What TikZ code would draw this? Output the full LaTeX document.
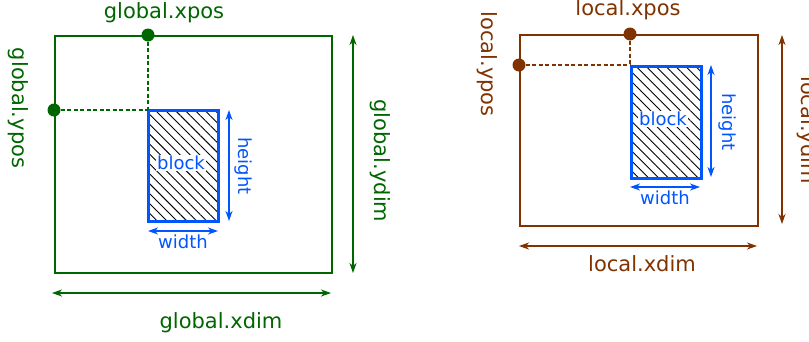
\documentclass[tikz,border=0pt]{standalone}
\usepackage{fontspec}
\setmainfont{DejaVu Sans}
\usetikzlibrary{arrows.meta,patterns.meta}
\definecolor{gr}{HTML}{006600}
\definecolor{br}{HTML}{803300}
\definecolor{bl}{HTML}{0055FF}
\begin{document}
\begin{tikzpicture}[x=1pt,y=-1pt,
  frame/.style={draw=#1,line width=2.4pt,inner sep=0pt,anchor=north west},
  blockbox/.style={draw=bl,line width=3.2pt,inner sep=0pt,anchor=north west,
    minimum width=70pt,minimum height=111pt,
    pattern={Lines[angle=-45,distance=7pt,line width=0.9pt]},pattern color=black},
  dot/.style={circle,fill=#1,inner sep=0pt,minimum size=13pt},
  guide/.style={draw=#1,line width=1.3pt,dash pattern=on 4pt off 2.5pt},
  dim/.style={draw=#1,line width=1.2pt,{Stealth[length=10pt,width=7pt,inset=3pt]}-{Stealth[length=10pt,width=7pt,inset=3pt]}},
  bdim/.style={draw=bl,line width=1.5pt,{Stealth[length=10pt,width=7pt,inset=3pt]}-{Stealth[length=10pt,width=7pt,inset=3pt]}},
  big/.style={text=#1,font=\fontsize{21}{25}\selectfont,inner sep=0pt},
  small/.style={text=bl,font=\fontsize{18}{22}\selectfont,inner sep=0pt},
]
\useasboundingbox (0,0) rectangle (809,341);
% ---------------- global ----------------
\node[frame=gr,minimum width=277pt,minimum height=237pt] (gbox) at (54,35) {};
\node[blockbox] (gblock) at (148,110) {};
\node[dot=gr] (gxdot) at (148,35) {};
\node[dot=gr] (gydot) at (54,110) {};
\draw[guide=gr] (gxdot) -- (gblock.north west);
\draw[guide=gr] (gydot) -- (gblock.north west);
\node[small,fill=white,inner sep=1pt] (gblabel) at (181,163) {block};
\coordinate (gh1) at (229,110);
\coordinate (gh2) at (229,221);
\draw[bdim] (gh1) -- (gh2);
\coordinate (gw1) at (148,231);
\coordinate (gw2) at (218,231);
\draw[bdim] (gw1) -- (gw2);
\node[small,rotate=-90] (gheight) at (243,166) {height};
\node[small] (gwidth) at (183,242) {width};
\coordinate (gyd1) at (353,35);
\coordinate (gyd2) at (353,273);
\draw[dim=gr] (gyd1) -- (gyd2);
\coordinate (gxd1) at (52,293);
\coordinate (gxd2) at (331,293);
\draw[dim=gr] (gxd1) -- (gxd2);
\node[big=gr] (gxpos) at (164,13) {global.xpos};
\node[big=gr,rotate=-90] (gypos) at (18,108) {global.ypos};
\node[big=gr,rotate=-90] (gydim) at (380,161) {global.ydim};
\node[big=gr] (gxdim) at (221,323) {global.xdim};
% ---------------- local ----------------
\node[frame=br,minimum width=238pt,minimum height=191pt] (lbox) at (519,34) {};
\node[blockbox,minimum height=112pt] (lblock) at (630,65) {};
\node[dot=br] (lxdot) at (630,34) {};
\node[dot=br] (lydot) at (519,65) {};
\draw[guide=br] (lxdot) -- (lblock.north west);
\draw[guide=br] (lydot) -- (lblock.north west);
\node[small,fill=white,inner sep=1pt] (lblabel) at (663,119) {block};
\coordinate (lh1) at (711,65);
\coordinate (lh2) at (711,177);
\draw[bdim] (lh1) -- (lh2);
\coordinate (lw1) at (630,187);
\coordinate (lw2) at (700,187);
\draw[bdim] (lw1) -- (lw2);
\node[small,rotate=-90] (lheight) at (727,122) {height};
\node[small] (lwidth) at (665,198) {width};
\coordinate (lyd1) at (782,35);
\coordinate (lyd2) at (782,224);
\draw[dim=br] (lyd1) -- (lyd2);
\coordinate (lxd1) at (519,246);
\coordinate (lxd2) at (757,246);
\draw[dim=br] (lxd1) -- (lxd2);
\node[big=br] (lxpos) at (628,10) {local.xpos};
\node[big=br,rotate=-90] (lypos) at (487,64) {local.ypos};
\node[big=br,rotate=-90] (lydim) at (807,130) {local.ydim};
\node[big=br] (lxdim) at (642,264) {local.xdim};
\end{tikzpicture}
\end{document}
